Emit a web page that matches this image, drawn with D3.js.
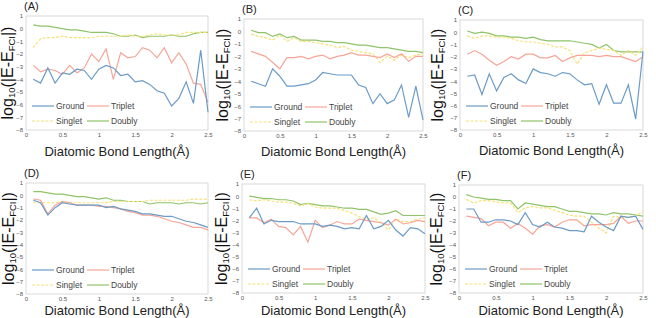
<!DOCTYPE html>
<html>
<head>
<meta charset="utf-8">
<script src="https://cdn.jsdelivr.net/npm/d3@7"></script>
<style>
  body { margin: 0; background: #fff; }
  svg { display: block; }
  text { font-family: "Liberation Sans", Arial, sans-serif; }
</style>
</head>
<body>
<div id="chart"></div>
<script>
// bond length (Å)
const bondLength = [0.1,0.2,0.3,0.4,0.5,0.6,0.7,0.8,0.9,1.0,1.1,1.2,1.3,1.4,1.5,1.6,1.7,1.8,1.9,2.0,2.1,2.2,2.3,2.4,2.5];

const groundA  = [-4.0,-4.3,-3.1,-4.3,-3.5,-3.6,-3.2,-3.3,-4.0,-3.2,-2.9,-3.1,-3.7,-3.6,-4.2,-4.1,-4.4,-4.9,-5.1,-6.1,-5.5,-4.2,-5.9,-1.7,-6.6];
const tripletA = [-2.9,-3.4,-3.2,-3.3,-3.6,-2.9,-3.5,-3.1,-2.0,-2.6,-1.6,-4.0,-1.9,-2.3,-2.2,-1.5,-1.7,-2.3,-1.5,-2.7,-1.9,-2.8,-4.3,-4.4,-5.8];
const singletA = [-1.5,-0.8,-0.7,-0.7,-0.6,-0.7,-0.7,-0.7,-0.7,-0.6,-0.6,-0.6,-0.6,-0.5,-0.6,-0.6,-0.5,-0.4,-0.5,-0.5,-0.5,-0.3,-0.3,-0.3,-0.3];
const doublyA  = [0.3,0.2,0.2,0.1,0.0,-0.1,-0.1,-0.2,-0.3,-0.3,-0.3,-0.4,-0.6,-0.6,-0.5,-0.7,-0.6,-0.6,-0.6,-0.5,-0.6,-0.6,-0.4,-0.3,-0.3];

const groundB  = [-4.0,-4.2,-4.4,-3.0,-3.6,-4.4,-4.4,-4.3,-4.2,-3.9,-3.3,-3.4,-3.5,-3.5,-3.5,-4.3,-4.5,-5.8,-5.0,-5.8,-5.5,-4.3,-6.9,-4.4,-7.1];
const tripletB = [-1.6,-1.8,-2.0,-2.5,-3.0,-2.1,-2.1,-2.0,-2.2,-2.0,-1.9,-2.2,-2.0,-1.9,-1.7,-1.9,-1.9,-2.0,-2.1,-1.8,-2.1,-1.8,-2.4,-2.0,-2.0];
const singletB = [-0.2,-0.4,-0.5,-0.7,-0.3,-0.8,-0.5,-0.8,-0.8,-0.9,-1.0,-1.1,-1.3,-1.2,-1.5,-1.6,-1.7,-1.8,-2.5,-2.0,-2.3,-1.9,-2.1,-1.9,-1.8];
const doublyB  = [0.1,-0.1,-0.1,-0.4,-0.2,-0.5,-0.4,-0.7,-0.7,-0.7,-0.8,-0.8,-0.9,-0.9,-1.0,-1.1,-1.1,-1.2,-1.3,-1.3,-1.4,-1.5,-1.6,-1.6,-1.7];

const groundC  = [-3.6,-3.5,-5.1,-3.4,-4.8,-3.7,-3.4,-3.9,-4.2,-3.0,-3.3,-3.4,-3.6,-3.3,-3.4,-3.9,-4.3,-4.2,-5.9,-4.3,-5.8,-5.8,-4.3,-7.1,-1.6];
const tripletC = [-1.8,-1.5,-1.8,-2.3,-2.7,-2.4,-2.0,-2.2,-1.8,-1.8,-2.1,-2.1,-1.9,-2.4,-2.1,-1.9,-1.9,-1.9,-2.0,-1.9,-2.0,-2.0,-2.2,-2.4,-2.0];
const singletC = [-0.3,-0.5,-0.3,-0.3,-0.4,-0.4,-0.5,-0.7,-0.8,-0.8,-0.9,-1.0,-1.2,-1.2,-1.5,-2.6,-1.7,-1.5,-1.3,-1.4,-1.5,-1.9,-1.5,-1.9,-1.2];
const doublyC  = [0.1,-0.1,0.0,-0.1,-0.3,-0.3,-0.4,-0.4,-0.5,-0.4,-0.6,-0.7,-0.7,-0.7,-0.7,-0.8,-0.9,-1.0,-1.3,-1.0,-1.5,-1.6,-1.6,-1.6,-1.6];

const groundD  = [-0.4,-0.6,-1.6,-1.0,-0.6,-0.7,-0.8,-0.8,-0.8,-0.8,-1.0,-0.9,-1.1,-1.2,-1.3,-1.5,-1.5,-1.6,-1.7,-1.7,-1.9,-2.1,-2.2,-2.4,-2.6];
const tripletD = [-0.3,-0.4,-1.5,-0.8,-0.5,-0.6,-0.8,-0.8,-0.8,-0.9,-0.9,-1.0,-1.1,-1.3,-1.4,-1.6,-1.6,-1.7,-1.9,-2.1,-2.2,-2.4,-2.6,-2.6,-2.8];
const singletD = [-0.6,-0.6,-0.6,-0.6,-0.5,-0.6,-0.6,-0.6,-0.6,-0.6,-0.6,-0.5,-0.5,-0.5,-0.5,-0.5,-0.4,-0.4,-0.4,-0.4,-0.4,-0.4,-0.3,-0.3,-0.3];
const doublyD  = [0.3,0.3,0.2,0.1,0.1,0.0,-0.1,-0.1,-0.2,-0.3,-0.2,-0.4,-0.4,-0.5,-0.5,-0.5,-0.7,-0.6,-0.6,-0.6,-0.7,-0.6,-0.6,-0.7,-0.6];

const groundE  = [-1.8,-1.0,-2.3,-2.0,-2.1,-2.1,-2.1,-2.3,-2.3,-2.3,-2.5,-2.4,-2.5,-2.7,-2.6,-2.7,-1.6,-2.7,-2.5,-2.0,-2.8,-3.3,-2.6,-2.7,-3.1];
const tripletE = [-1.8,-1.8,-2.2,-1.9,-2.5,-2.6,-3.2,-2.5,-3.8,-2.0,-2.6,-2.4,-2.1,-2.3,-2.3,-1.9,-2.0,-2.1,-2.2,-2.4,-1.9,-2.3,-2.2,-2.0,-2.1];
const singletE = [-0.3,-0.4,-0.3,-0.4,-0.5,-0.5,-0.6,-0.8,-0.6,-0.9,-1.0,-1.0,-1.0,-1.2,-1.4,-1.7,-1.9,-1.8,-2.2,-2.8,-1.9,-2.1,-2.1,-1.9,-1.8];
const doublyE  = [0.0,-0.1,-0.2,-0.2,-0.3,-0.3,-0.4,-0.7,-0.6,-0.7,-0.8,-0.8,-0.9,-1.0,-1.0,-1.1,-1.1,-1.3,-1.5,-1.4,-1.2,-1.6,-1.6,-1.6,-1.6];

const groundF  = [-1.0,-1.0,-2.1,-2.1,-1.9,-1.9,-2.0,-2.3,-1.3,-2.3,-2.5,-2.1,-2.5,-2.6,-2.8,-2.8,-2.9,-1.6,-2.1,-2.5,-2.8,-1.6,-1.7,-1.6,-2.7];
const tripletF = [-1.6,-1.7,-1.8,-2.4,-2.1,-2.1,-2.6,-2.2,-2.6,-3.1,-2.4,-2.3,-2.5,-2.1,-1.9,-1.9,-2.4,-2.3,-2.3,-2.3,-2.2,-1.6,-2.2,-2.0,-2.0];
const singletF = [-0.2,-0.5,-0.3,-0.3,-0.4,-0.5,-0.5,-1.3,-0.9,-0.8,-0.9,-0.9,-1.1,-1.3,-1.5,-1.6,-1.6,-2.1,-2.6,-3.0,-1.6,-1.7,-1.7,-1.6,-1.2];
const doublyF  = [0.2,0.0,-0.1,-0.2,-0.2,-0.3,-0.3,-1.0,-0.5,-0.6,-0.7,-0.8,-0.8,-1.0,-1.2,-1.2,-1.3,-1.4,-1.4,-1.5,-1.3,-1.4,-1.4,-1.5,-1.6];

const panelNames  = ["(A)", "(B)", "(C)", "(D)", "(E)", "(F)"];
const seriesNames = ["Ground", "Triplet", "Singlet", "Doubly"];
const yTicks      = [1, 0, -1, -2, -3, -4, -5, -6, -7, -8];
const xTicks      = [0, 0.5, 1, 1.5, 2, 2.5];
const xTickLabels = ["0", "0.5", "1", "1.5", "2", "2.5"];

const panelData = [
  [groundA, tripletA, singletA, doublyA],
  [groundB, tripletB, singletB, doublyB],
  [groundC, tripletC, singletC, doublyC],
  [groundD, tripletD, singletD, doublyD],
  [groundE, tripletE, singletE, doublyE],
  [groundF, tripletF, singletF, doublyF]
];

// plot boxes on the page
const boxes = [
  {x0: 26,  x1: 208, y0: 16,  y1: 130, labX: 8,   titleY: 156},
  {x0: 244, x1: 423, y0: 19,  y1: 131, labX: 223, titleY: 156},
  {x0: 460, x1: 643, y0: 20,  y1: 130, labX: 438, titleY: 155},
  {x0: 26,  x1: 208, y0: 183, y1: 294, labX: 9,   titleY: 315},
  {x0: 242, x1: 425, y0: 184, y1: 293, labX: 222, titleY: 315},
  {x0: 459, x1: 643, y0: 185, y1: 293, labX: 437, titleY: 315}
];

const colors = ["#6b9bc8", "#f6a597", "#f6e27a", "#8fc46a"];
const dashes = [null, null, "3,1.5", null];

const w = 656, h = 318;
const svg = d3.select("#chart").append("svg").attr("width", w).attr("height", h);

boxes.forEach((b, p) => {
  const xScale = d3.scaleLinear().domain([0, 2.5]).range([b.x0, b.x1]);
  const yScale = d3.scaleLinear().domain([-8, 1]).range([b.y1, b.y0]);
  const g = svg.append("g");

  g.append("rect")
    .attr("x", b.x0).attr("y", b.y0)
    .attr("width", b.x1 - b.x0).attr("height", b.y1 - b.y0)
    .attr("fill", "none").attr("stroke", "#d0d0d0").attr("stroke-width", 0.8);

  const yAxis = d3.axisLeft(yScale).tickValues(yTicks).tickSize(0).tickPadding(3);
  g.append("g").attr("transform", "translate(" + b.x0 + ",0)").call(yAxis)
    .call(s => s.select(".domain").remove())
    .selectAll("text").attr("font-size", 6).attr("fill", "#555")
    .style("font-family", "\"Liberation Sans\", Arial, sans-serif");

  const xAxis = d3.axisBottom(xScale).tickValues(xTicks)
    .tickFormat((d, i) => xTickLabels[i]).tickSize(0).tickPadding(3);
  g.append("g").attr("transform", "translate(0," + b.y1 + ")").call(xAxis)
    .call(s => s.select(".domain").remove())
    .selectAll("text").attr("font-size", 6).attr("fill", "#555")
    .style("font-family", "\"Liberation Sans\", Arial, sans-serif");

  const line = d3.line().x((d, i) => xScale(bondLength[i])).y(d => yScale(d));

  // draw back to front: doubly, singlet, triplet, ground
  [3, 2, 1, 0].forEach(k => {
    g.append("path")
      .datum(panelData[p][k])
      .attr("d", line)
      .attr("fill", "none")
      .attr("stroke", colors[k])
      .attr("stroke-width", 1.2)
      .attr("stroke-dasharray", dashes[k]);
  });

  // legend
  const legPos = [
    {lx: 6,  ly: -24}, {lx: 61, ly: -24},
    {lx: 6,  ly: -9},  {lx: 61, ly: -9}
  ];
  seriesNames.forEach((name, k) => {
    const lx = b.x0 + legPos[k].lx, ly = b.y1 + legPos[k].ly;
    g.append("line")
      .attr("x1", lx).attr("x2", lx + 22).attr("y1", ly).attr("y2", ly)
      .attr("stroke", colors[k]).attr("stroke-width", 1.2)
      .attr("stroke-dasharray", dashes[k]);
    g.append("text")
      .attr("x", lx + 24).attr("y", ly + 3)
      .attr("font-size", 8.5).attr("fill", "#444")
      .text(name);
  });

  // panel letter
  svg.append("text")
    .attr("x", b.x0 - 2).attr("y", b.y0 - 6)
    .attr("font-size", 11).attr("fill", "#222")
    .text(panelNames[p]);

  // x axis title
  svg.append("text")
    .attr("x", (b.x0 + b.x1) / 2).attr("y", b.titleY)
    .attr("text-anchor", "middle")
    .attr("font-size", 13).attr("fill", "#222")
    .text("Diatomic Bond Length(\u00C5)");

  // y axis title
  const yl = svg.append("text")
    .attr("transform", "translate(" + (b.labX + 5) + "," + ((b.y0 + b.y1) / 2) + ") rotate(-90)")
    .attr("text-anchor", "middle")
    .attr("font-size", 16).attr("fill", "#111");
  yl.append("tspan").text("log");
  yl.append("tspan").attr("font-size", 9.5).attr("dy", 2).text("10");
  yl.append("tspan").attr("dy", -2).text("(|E-E");
  yl.append("tspan").attr("font-size", 9.5).attr("dy", 2).text("FCI");
  yl.append("tspan").attr("dy", -2).text("|)");
});
</script>
</body>
</html>
